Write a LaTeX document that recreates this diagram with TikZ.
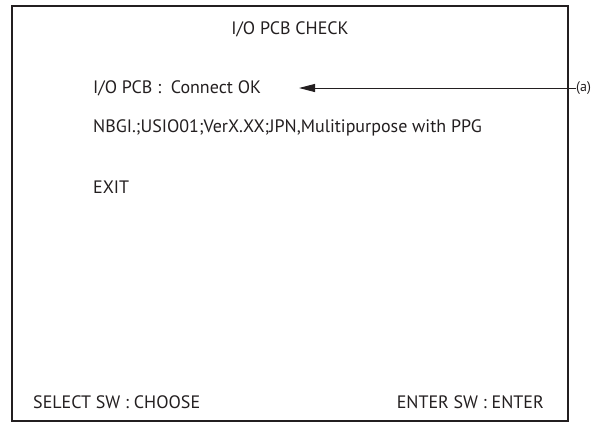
\documentclass[tikz,border=0pt]{standalone}
\usepackage{fontspec}
\setmainfont{PT Sans}
\usetikzlibrary{arrows.meta}
\definecolor{ink}{HTML}{231F20}
\begin{document}
\begin{tikzpicture}[x=1pt,y=-1pt,
    menutext/.style={inner sep=0pt,text=ink,font=\fontsize{18}{20}\selectfont},
    callout/.style={-{Triangle[length=16pt,width=8pt]},line width=1pt,ink}]
  \useasboundingbox (0,0) rectangle (595,424);

  % Marco de la pantalla
  \draw[line width=2pt,ink] (12,6) rectangle (568,421);

  % Textos del menu
  \node[menutext] (title) at (290,29) {I/O PCB CHECK};
  \node[menutext,anchor=west] (status) at (93,88) {I/O PCB :\ \ Connect OK};
  \node[menutext,anchor=west] (version) at (93,128) {NBGI.;USIO01;VerX.XX;JPN,Mulitipurpose with PPG};
  \node[menutext,anchor=west] (exitopt) at (93,187) {EXIT};
  \node[menutext,anchor=west] (selectsw) at (33,402) {SELECT SW : CHOOSE};
  \node[menutext,anchor=east] (entersw) at (544,402) {ENTER SW : ENTER};

  % Llamada (a)
  \node[menutext,anchor=west,font=\fontsize{14}{16}\selectfont] (lbla) at (576,88) {(a)};
  \coordinate (tip) at (299,88);
  \draw[callout] (lbla.west) -- (tip);
\end{tikzpicture}
\end{document}
